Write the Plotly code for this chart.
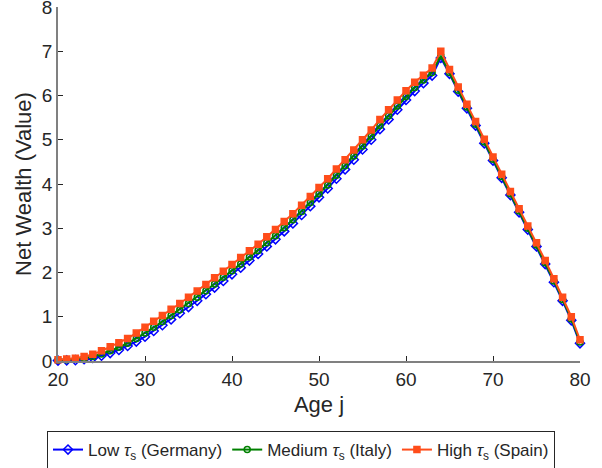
import plotly.graph_objects as go

# Ages 20..80
ages = list(range(20, 81))

# Net wealth by age
low_germany = [
    0.01, 0.015, 0.02, 0.04, 0.07, 0.12, 0.18, 0.25, 0.34, 0.44,
    0.55, 0.68, 0.81, 0.94, 1.08, 1.22, 1.36, 1.51, 1.66, 1.81,
    1.96, 2.11, 2.27, 2.42, 2.59, 2.75, 2.93, 3.11, 3.30, 3.50,
    3.70, 3.90, 4.12, 4.33, 4.55, 4.78, 5.00, 5.24, 5.46, 5.68,
    5.90, 6.10, 6.28, 6.45, 6.85, 6.49, 6.09, 5.71, 5.32, 4.92,
    4.53, 4.14, 3.75, 3.36, 2.97, 2.59, 2.19, 1.78, 1.36, 0.92,
    0.40,
]
medium_italy = [
    0.02, 0.03, 0.04, 0.06, 0.10, 0.16, 0.23, 0.31, 0.40, 0.51,
    0.63, 0.76, 0.89, 1.03, 1.16, 1.30, 1.44, 1.59, 1.74, 1.89,
    2.04, 2.19, 2.35, 2.50, 2.67, 2.83, 3.01, 3.19, 3.38, 3.58,
    3.78, 3.98, 4.20, 4.41, 4.63, 4.86, 5.08, 5.32, 5.54, 5.76,
    5.98, 6.18, 6.35, 6.52, 6.90, 6.52, 6.12, 5.74, 5.35, 4.95,
    4.56, 4.17, 3.78, 3.39, 3.00, 2.62, 2.22, 1.81, 1.39, 0.95,
    0.43,
]
high_spain = [
    0.03, 0.045, 0.06, 0.10, 0.15, 0.23, 0.32, 0.41, 0.51, 0.63,
    0.76, 0.90, 1.03, 1.17, 1.30, 1.44, 1.58, 1.73, 1.88, 2.03,
    2.18, 2.34, 2.49, 2.64, 2.81, 2.97, 3.15, 3.33, 3.52, 3.72,
    3.92, 4.12, 4.34, 4.55, 4.77, 5.00, 5.22, 5.46, 5.68, 5.90,
    6.11, 6.30, 6.46, 6.62, 7.00, 6.59, 6.19, 5.80, 5.41, 5.01,
    4.61, 4.22, 3.83, 3.44, 3.05, 2.67, 2.27, 1.86, 1.44, 1.00,
    0.48,
]

x_ticks = [20, 30, 40, 50, 60, 70, 80]
y_ticks = [0, 1, 2, 3, 4, 5, 6, 7, 8]

FONT = "Liberation Sans, Arial, Helvetica, sans-serif"
TEXT = "#262626"
AXIS = "#808080"

series = [
    ("Low <i>τ</i><sub>s</sub> (Germany)", low_germany, "#0000FF", "diamond-open", 7),
    ("Medium <i>τ</i><sub>s</sub> (Italy)", medium_italy, "#008000", "circle-open", 6),
    ("High <i>τ</i><sub>s</sub> (Spain)", high_spain, "#FF4D1A", "square", 6),
]

fig = go.Figure()

for name, values, color, symbol, size in series:
    fig.add_trace(
        go.Scatter(
            x=ages,
            y=values,
            mode="lines+markers",
            name=name,
            cliponaxis=False,
            line=dict(color=color, width=2),
            marker=dict(symbol=symbol, size=size, color=color,
                        line=dict(color=color, width=1.5)),
        )
    )

axis_common = dict(
    showgrid=False,
    zeroline=False,
    showline=True,
    linecolor=AXIS,
    linewidth=1.5,
    ticks="inside",
    ticklen=5,
    tickcolor=TEXT,
    tickfont=dict(size=19),
    ticklabeloverflow="allow",
    automargin=False,
)

fig.update_layout(
    width=602,
    height=468,
    autosize=False,
    paper_bgcolor="white",
    plot_bgcolor="white",
    font=dict(family=FONT, size=19, color=TEXT),
    margin=dict(l=58, r=22, t=7, b=107),
    xaxis=dict(
        title=dict(text="Age j", font=dict(size=22), standoff=8),
        range=[20, 80],
        tickvals=x_ticks,
        **axis_common,
    ),
    yaxis=dict(
        title=dict(text="Net Wealth (Value)", font=dict(size=22), standoff=4),
        range=[0, 8],
        tickvals=y_ticks,
        **axis_common,
    ),
    showlegend=True,
    # legend placed against the whole figure so it does not push the margins
    legend=dict(
        orientation="h",
        x=0.5,
        xanchor="center",
        xref="container",
        y=0.079,
        yanchor="top",
        yref="container",
        bordercolor=TEXT,
        borderwidth=1,
        bgcolor="white",
        font=dict(size=17),
        itemwidth=30,
        tracegroupgap=0,
    ),
)

# drop the browser's default body margin so the figure sits at the top-left
fig.write_html(
    "out.html",
    config={"displayModeBar": False, "responsive": False},
    post_script="document.body.style.margin = '0';",
)
